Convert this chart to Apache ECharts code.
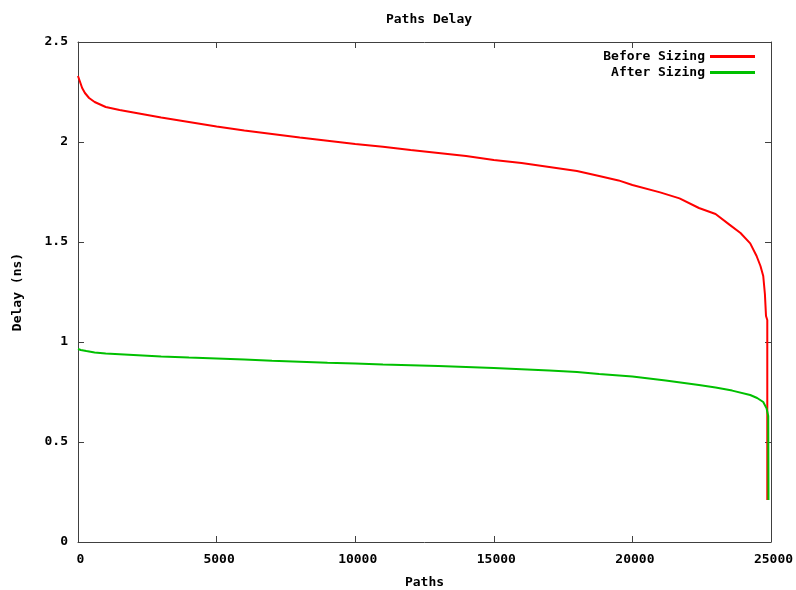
<!DOCTYPE html>
<html><head><meta charset="utf-8">
<script src="https://cdn.jsdelivr.net/npm/echarts@6/dist/echarts.min.js"></script>
<style>html,body{margin:0;padding:0;background:#fff}#c{width:796px;height:590px}</style>
</head><body><div id="c"></div>
<script>
const xTicks = [0, 5000, 10000, 15000, 20000, 25000];
const yTicks = [0, 0.5, 1, 1.5, 2, 2.5];
const pathsBefore = [0, 50, 150, 250, 400, 600, 1000, 1500, 2000, 3000, 4000, 5000, 6000, 7000, 8000, 9000, 10000, 11000, 12000, 13000, 14000, 15000, 16000, 17000, 18000, 18800, 19500, 20000, 21000, 21700, 22400, 23000, 23500, 23900, 24250, 24480, 24620, 24720, 24780, 24820, 24840, 24866, 24866];
const delayBefore = [2.33, 2.31, 2.27, 2.245, 2.22, 2.2, 2.175, 2.16, 2.148, 2.122, 2.1, 2.078, 2.058, 2.04, 2.022, 2.006, 1.99, 1.976, 1.96, 1.945, 1.93, 1.91, 1.895, 1.875, 1.855, 1.83, 1.808, 1.785, 1.748, 1.718, 1.67, 1.64, 1.587, 1.545, 1.493, 1.43, 1.38, 1.33, 1.24, 1.13, 1.12, 1.11, 0.21];
const pathsAfter = [0, 100, 300, 600, 1000, 2000, 3000, 4000, 5000, 6000, 7000, 8000, 9000, 10000, 11000, 12000, 13000, 14000, 15000, 16000, 17000, 18000, 18800, 20000, 21200, 22400, 23000, 23600, 24250, 24500, 24720, 24840, 24900, 24910];
const delayAfter = [0.965, 0.96, 0.955, 0.948, 0.942, 0.935, 0.928, 0.922, 0.917, 0.912, 0.906, 0.901, 0.896, 0.893, 0.888, 0.884, 0.880, 0.875, 0.870, 0.864, 0.858, 0.850, 0.840, 0.827, 0.807, 0.785, 0.772, 0.757, 0.735, 0.72, 0.70, 0.668, 0.63, 0.21];

const zip = (xs, ys) => xs.map((x, i) => [x, ys[i]]);
const FONT = '"DejaVu Sans Mono", monospace';
const lbl = {fontFamily: FONT, fontWeight: 'bold', fontSize: 13, color: '#000'};
const axLine = {show: true, onZero: false, lineStyle: {color: '#404040', width: 1}};
const tick = {show: true, inside: true, length: 6, lineStyle: {color: '#404040'}};

const chart = echarts.init(document.getElementById('c'), null, {renderer: 'canvas'});
chart.setOption({
  animation: false,
  backgroundColor: '#fff',
  title: {text: 'Paths Delay', left: 424, textAlign: 'center', top: 8,
    textStyle: Object.assign({}, lbl, {fontSize: 13})},
  legend: {
    orient: 'vertical', right: 36, top: 45, align: 'right', itemWidth: 45, itemHeight: 3,
    itemGap: 3, textStyle: lbl, icon: 'rect',
    data: ['Before Sizing', 'After Sizing']
  },
  grid: {left: 78, right: 25, top: 42, bottom: 48, outerBoundsMode: 'none', containLabel: false},
  xAxis: [{
    type: 'value', min: 0, max: 25000, interval: 5000,
    name: 'Paths', nameLocation: 'middle', nameGap: 34, nameTextStyle: lbl,
    axisLine: axLine, axisTick: tick, splitLine: {show: false},
    axisLabel: Object.assign({margin: 11, padding: [0, 0, 0, 5], formatter: v => String(v)}, lbl)
  }, {
    type: 'value', min: 0, max: 25000, interval: 5000, position: 'top',
    axisLine: axLine, axisTick: tick, splitLine: {show: false}, axisLabel: {show: false}
  }],
  yAxis: [{
    type: 'value', min: 0, max: 2.5, interval: 0.5,
    name: 'Delay (ns)', nameLocation: 'middle', nameGap: 54, nameTextStyle: lbl,
    axisLine: axLine, axisTick: tick, splitLine: {show: false},
    axisLabel: Object.assign({margin: 10}, lbl)
  }, {
    type: 'value', min: 0, max: 2.5, interval: 0.5, position: 'right',
    axisLine: axLine, axisTick: tick, splitLine: {show: false}, axisLabel: {show: false}
  }],
  series: [{
    name: 'Before Sizing', type: 'line', showSymbol: false, symbol: 'none',
    data: zip(pathsBefore, delayBefore), color: '#ff0000',
    lineStyle: {width: 2, color: '#ff0000'}
  }, {
    name: 'After Sizing', type: 'line', showSymbol: false, symbol: 'none',
    data: zip(pathsAfter, delayAfter), color: '#00c000',
    lineStyle: {width: 2, color: '#00c000'}
  }]
});
</script></body></html>
